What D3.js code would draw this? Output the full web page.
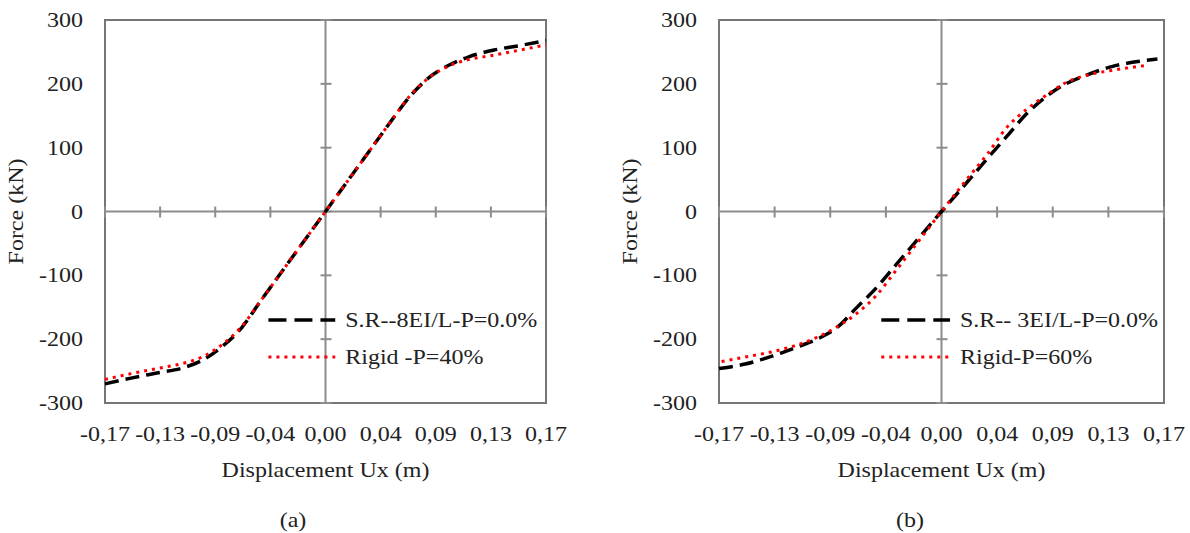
<!DOCTYPE html>
<meta charset="utf-8">
<style>
body { margin: 0; background: #fff; }
svg text { font-family: "Liberation Serif", "Times New Roman", serif; fill: #222; }
</style>
<body>
<svg width="1190" height="533"></svg>
<script src="https://d3js.org/d3.v7.min.js"></script>
<script>

// panel (a)
var dispA   = [-0.17, -0.15, -0.13, -0.11, -0.095, -0.08, -0.065, -0.05, -0.035, -0.02, 0, 0.02, 0.035, 0.05, 0.065, 0.08, 0.095, 0.11, 0.13, 0.15, 0.17];
var srA     = [-270, -261, -253, -245, -233, -212, -183, -140, -98, -56, 0, 56, 98, 140, 180, 210, 229, 242, 253, 260, 268];
var rigidA  = [-263, -254, -246, -238, -228, -209, -181, -140, -98, -56, 0, 56, 98, 140, 181, 210, 228, 238, 245, 253, 261];

// panel (b)
var dispB   = [-0.17, -0.15, -0.13, -0.11, -0.095, -0.08, -0.065, -0.05, -0.035, -0.02, 0, 0.02, 0.035, 0.05, 0.065, 0.08, 0.095, 0.11, 0.13, 0.15, 0.165];
var srB     = [-246, -239, -227, -212, -200, -182, -151, -120, -84, -48, 0, 47, 83, 118, 153, 180, 200, 213, 227, 235, 239];
var dispB2  = [-0.168, -0.15, -0.13, -0.11, -0.095, -0.08, -0.065, -0.05, -0.035, -0.02, 0, 0.02, 0.035, 0.05, 0.065, 0.08, 0.095, 0.11, 0.13, 0.157];
var rigidB  = [-235, -228, -220, -209, -197, -181, -160, -132, -93, -53, 0, 52, 90, 132, 160, 182, 202, 213, 221, 229];

var xTicks = [-0.17, -0.1275, -0.085, -0.0425, 0, 0.0425, 0.085, 0.1275, 0.17];
var xTickLabels = ["-0,17", "-0,13", "-0,09", "-0,04", "0,00", "0,04", "0,09", "0,13", "0,17"];
var yTicks = [-300, -200, -100, 0, 100, 200, 300];

var panels = [
  { left: 105, right: 546, x: [dispA, dispA], y: [srA, rigidA],
    names: ["S.R--8EI/L-P=0.0%", "Rigid -P=40%"], tag: "(a)", tagX: 293, legX: [-0.044, 0.0075] },
  { left: 719, right: 1164, x: [dispB, dispB2], y: [srB, rigidB],
    names: ["S.R-- 3EI/L-P=0.0%", "Rigid-P=60%"], tag: "(b)", tagX: 910, legX: [-0.046, 0.0065] }
];

var svg = d3.select("svg"),
    plotTop = 20, plotBottom = 403,
    stretch = 1.2;

function label(g, x, y, txt, anchor, size, rot) {
  g.append("text")
      .attr("transform", "translate(" + x + "," + y + ")" + (rot ? " rotate(" + rot + ")" : "") + " scale(" + stretch + ",1)")
      .attr("text-anchor", anchor)
      .style("font-size", size + "px")
      .text(txt);
}

panels.forEach(function(p) {
  var g = svg.append("g");

  var x = d3.scaleLinear().domain([-0.17, 0.17]).range([p.left, p.right]),
      y = d3.scaleLinear().domain([-300, 300]).range([plotBottom, plotTop]);

  // frame
  g.append("rect")
      .attr("x", x(-0.17)).attr("y", y(300))
      .attr("width", x(0.17) - x(-0.17)).attr("height", y(-300) - y(300))
      .attr("fill", "none").attr("stroke", "#767676").attr("stroke-width", 2);

  // zero axes
  g.append("line")
      .attr("x1", x(-0.17)).attr("x2", x(0.17)).attr("y1", y(0)).attr("y2", y(0))
      .attr("stroke", "#8c8c8c").attr("stroke-width", 2);
  g.append("line")
      .attr("x1", x(0)).attr("x2", x(0)).attr("y1", y(300)).attr("y2", y(-300))
      .attr("stroke", "#8c8c8c").attr("stroke-width", 2);

  g.selectAll(".xt").data(xTicks).enter().append("line")
      .attr("x1", function(d) { return x(d); }).attr("x2", function(d) { return x(d); })
      .attr("y1", y(0) - 5).attr("y2", y(0) + 6)
      .attr("stroke", "#8c8c8c").attr("stroke-width", 2);
  g.selectAll(".yt").data(yTicks).enter().append("line")
      .attr("x1", x(0) - 5).attr("x2", x(0) + 6)
      .attr("y1", function(d) { return y(d); }).attr("y2", function(d) { return y(d); })
      .attr("stroke", "#8c8c8c").attr("stroke-width", 2);

  // tick labels
  yTicks.forEach(function(d) { label(g, p.left - 22, y(d) + 7, d, "end", 20); });
  xTicks.forEach(function(d, i) { label(g, x(d), 441, xTickLabels[i], "middle", 20); });

  // titles
  label(g, p.left - 82, (plotTop + plotBottom) / 2, "Force (kN)", "middle", 20, -90);
  label(g, x(0), 477, "Displacement Ux (m)", "middle", 20);
  label(g, p.tagX, 527, p.tag, "middle", 20);

  // series
  var line = d3.line().curve(d3.curveMonotoneX);
  var styles = [
    { stroke: "#000", width: 3.5, dash: "14,7" },
    { stroke: "#ff0000", width: 3, dash: "3,5" }
  ];

  styles.forEach(function(s, k) {
    var pts = p.x[k].map(function(v, i) { return [x(v), y(p.y[k][i])]; });
    g.append("path")
        .attr("d", line(pts))
        .attr("fill", "none")
        .attr("stroke", s.stroke)
        .attr("stroke-width", s.width)
        .attr("stroke-dasharray", s.dash);

    // legend
    var ly = 320 + k * 37;
    g.append("line")
        .attr("x1", x(p.legX[0])).attr("x2", x(p.legX[1]))
        .attr("y1", ly).attr("y2", ly)
        .attr("stroke", s.stroke).attr("stroke-width", s.width)
        .attr("stroke-dasharray", k === 0 ? "18,8" : s.dash);
    label(g, x(p.legX[1]) + 10, ly + 7, p.names[k], "start", 20);
  });
});

</script>
</body>
